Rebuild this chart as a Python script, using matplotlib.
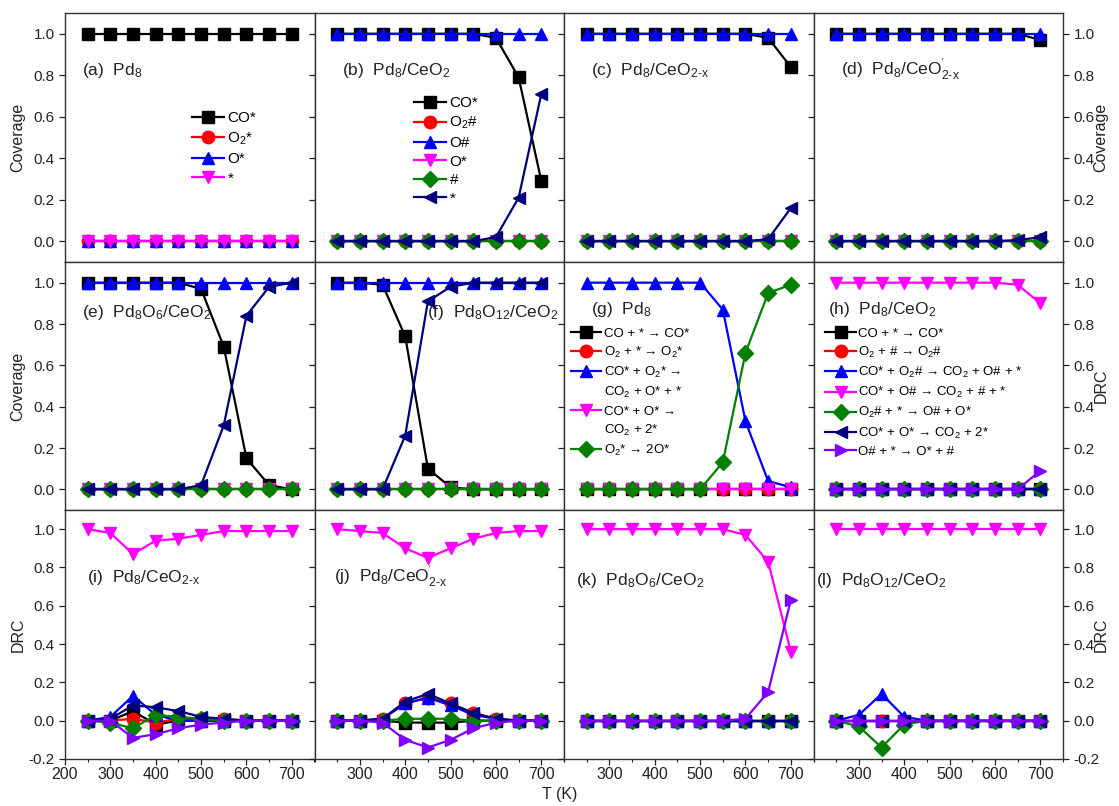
import matplotlib
matplotlib.use('Agg')
import matplotlib.pyplot as plt
from matplotlib.lines import Line2D
from matplotlib.ticker import MultipleLocator, FormatStrFormatter

plt.rcParams['font.family'] = ['Liberation Sans', 'DejaVu Sans']
plt.rcParams['mathtext.fontset'] = 'custom'
plt.rcParams['mathtext.rm'] = 'Liberation Sans'
plt.rcParams['mathtext.it'] = 'Liberation Sans:italic'
plt.rcParams['mathtext.bf'] = 'Liberation Sans:bold'
plt.rcParams['mathtext.default'] = 'regular'

# ---------------- data ----------------
T = [250, 300, 350, 400, 450, 500, 550, 600, 650, 700]
zero = [0, 0, 0, 0, 0, 0, 0, 0, 0, 0]
one = [1, 1, 1, 1, 1, 1, 1, 1, 1, 1]

# (a) Pd8 coverage
a_CO = [1, 1, 1, 1, 1, 1, 1, 1, 1, 1]
# (b) Pd8/CeO2 coverage
b_CO = [1, 1, 1, 1, 1, 1, 1, 0.98, 0.79, 0.29]
b_star = [0, 0, 0, 0, 0, 0, 0, 0.02, 0.21, 0.71]
# (c) Pd8/CeO2-x coverage
c_CO = [1, 1, 1, 1, 1, 1, 1, 1, 0.98, 0.84]
c_star = [0, 0, 0, 0, 0, 0, 0, 0, 0.01, 0.16]
# (d) Pd8/CeO'2-x coverage
d_CO = [1, 1, 1, 1, 1, 1, 1, 1, 1, 0.97]
d_star = [0, 0, 0, 0, 0, 0, 0, 0, 0.005, 0.02]
# (e) Pd8O6/CeO2 coverage
e_CO = [1, 1, 1, 1, 1, 0.97, 0.69, 0.15, 0.02, 0]
e_star = [0, 0, 0, 0, 0, 0.02, 0.31, 0.84, 0.98, 1.0]
# (f) Pd8O12/CeO2 coverage
f_CO = [1, 1, 0.99, 0.74, 0.10, 0.01, 0, 0, 0, 0]
f_star = [0, 0, 0, 0.26, 0.91, 0.98, 1, 1, 1, 1]
# (g) Pd8 DRC
g_blue = [1, 1, 1, 1, 1, 1, 0.87, 0.33, 0.04, 0.01]
g_green = [0, 0, 0, 0, 0, 0, 0.13, 0.66, 0.95, 0.99]
# (h) Pd8/CeO2 DRC
h_mag = [1, 1, 1, 1, 1, 1, 1, 1, 0.99, 0.90]
h_purple = [0, 0, 0, 0, 0, 0, 0, 0, 0, 0.09]
# (i) Pd8/CeO2-x DRC
i_black = [0, 0, 0.05, -0.02, 0, 0, 0, 0, 0, 0]
i_red = [0, 0, 0.01, -0.01, 0.01, 0.01, 0.01, 0, 0, 0]
i_blue = [0, 0.02, 0.13, 0.03, 0, 0, 0, 0, 0, 0]
i_mag = [1.0, 0.98, 0.87, 0.94, 0.95, 0.97, 0.99, 0.99, 0.99, 0.99]
i_green = [0, -0.01, -0.04, 0.03, 0.02, 0.01, 0, 0, 0, 0]
i_navy = [0, 0.01, 0.08, 0.07, 0.05, 0.02, 0.01, 0, 0, 0]
i_purple = [0, 0, -0.09, -0.07, -0.04, -0.02, -0.01, 0, 0, 0]
# (j) Pd8/CeO'2-x DRC
j_black = [0, 0, 0, -0.01, -0.01, -0.01, 0, 0, 0, 0]
j_red = [0, 0, 0.01, 0.09, 0.12, 0.09, 0.04, 0.01, 0, 0]
j_blue = [0, 0, 0.01, 0.09, 0.12, 0.08, 0.03, 0.01, 0, 0]
j_mag = [1.0, 0.99, 0.98, 0.90, 0.85, 0.90, 0.95, 0.98, 0.99, 0.99]
j_green = [0, 0, 0, 0.01, 0.01, 0.01, 0, 0, 0, 0]
j_navy = [0, 0, 0.01, 0.10, 0.14, 0.09, 0.04, 0.01, 0, 0]
j_purple = [0, 0, -0.01, -0.10, -0.14, -0.10, -0.04, -0.01, 0, 0]
# (k) Pd8O6/CeO2 DRC
k_mag = [1, 1, 1, 1, 1, 1, 1, 0.97, 0.83, 0.36]
k_purple = [0, 0, 0, 0, 0, 0, 0, 0.01, 0.15, 0.63]
# (l) Pd8O12/CeO2 DRC
l_blue = [0, 0.03, 0.14, 0.02, 0, 0, 0, 0, 0, 0]
l_green = [0, -0.03, -0.14, -0.02, 0, 0, 0, 0, 0, 0]

# legend labels
lab_a = ['CO*', 'O$_2$*', 'O*', '*']
lab_b = ['CO*', 'O$_2$#', 'O#', 'O*', '#', '*']
lab_g = ['CO + * \u2192 CO*', 'O$_2$ + * \u2192 O$_2$*', 'CO* + O$_2$* \u2192',
         'CO$_2$ + O* + *', 'CO* + O* \u2192', 'CO$_2$ + 2*', 'O$_2$* \u2192 2O*']
lab_h = ['CO + * \u2192 CO*', 'O$_2$ + # \u2192 O$_2$#',
         'CO* + O$_2$# \u2192 CO$_2$ + O# + *', 'CO* + O# \u2192 CO$_2$ + # + *',
         'O$_2$# + * \u2192 O# + O*', 'CO* + O* \u2192 CO$_2$ + 2*',
         'O# + * \u2192 O* + #']

titles = ['(a)  Pd$_8$', '(b)  Pd$_8$/CeO$_2$', '(c)  Pd$_8$/CeO$_{2\\text{-}x}$',
          "(d)  Pd$_8$/CeO$^{'}_{2\\text{-}x}$",
          '(e)  Pd$_8$O$_6$/CeO$_2$', '(f)  Pd$_8$O$_{12}$/CeO$_2$', '(g)  Pd$_8$',
          '(h)  Pd$_8$/CeO$_2$',
          '(i)  Pd$_8$/CeO$_{2\\text{-}x}$', "(j)  Pd$_8$/CeO$^{'}_{2\\text{-}x}$",
          '(k)  Pd$_8$O$_6$/CeO$_2$', '(l)  Pd$_8$O$_{12}$/CeO$_2$']
title_pos = [(0.07, 0.75), (0.11, 0.75), (0.11, 0.75), (0.11, 0.75),
             (0.07, 0.78), (0.45, 0.78), (0.11, 0.79), (0.06, 0.79),
             (0.09, 0.71), (0.08, 0.71), (0.05, 0.70), (0.01, 0.70)]

# styles
K = ('black', 's'); R = ('red', 'o'); B = ('blue', '^'); M = ('magenta', 'v')
G = ('green', 'D'); N = ('navy', '<'); P = ('#8000ff', '>')

panels = [
    [(K, a_CO), (R, zero), (B, zero), (M, zero)],
    [(K, b_CO), (R, zero), (B, one), (M, zero), (G, zero), (N, b_star)],
    [(K, c_CO), (R, zero), (B, one), (M, zero), (G, zero), (N, c_star)],
    [(K, d_CO), (R, zero), (B, one), (M, zero), (G, zero), (N, d_star)],
    [(K, e_CO), (R, zero), (B, one), (M, zero), (G, zero), (N, e_star)],
    [(K, f_CO), (R, zero), (B, one), (M, zero), (G, zero), (N, f_star)],
    [(K, zero), (R, zero), (B, g_blue), (M, zero), (G, g_green)],
    [(K, zero), (R, zero), (B, zero), (M, h_mag), (G, zero), (N, zero), (P, h_purple)],
    [(K, i_black), (R, i_red), (B, i_blue), (M, i_mag), (G, i_green), (N, i_navy), (P, i_purple)],
    [(K, j_black), (R, j_red), (B, j_blue), (M, j_mag), (G, j_green), (N, j_navy), (P, j_purple)],
    [(K, zero), (R, zero), (B, zero), (M, k_mag), (G, zero), (N, zero), (P, k_purple)],
    [(K, zero), (R, zero), (B, l_blue), (M, one), (G, l_green), (N, zero), (P, zero)],
]

FW, FH = 1119, 806
fig = plt.figure(figsize=(FW / 100, FH / 100), dpi=100)

L0 = 65; CW = 249.5
row_top = [13, 262, 510]
row_h = [249, 248, 249]

for idx in range(12):
    r, c = divmod(idx, 4)
    ax = fig.add_axes([(L0 + c * CW) / FW, 1 - (row_top[r] + row_h[r]) / FH,
                       CW / FW, row_h[r] / FH])
    handles = []
    for (col, mk), vals in panels[idx]:
        ms = 8 if mk == 'D' else 9
        h, = ax.plot(T, vals, color=col, marker=mk, ms=ms, lw=1.6,
                     mec=col, mfc=col)
        handles.append(h)
    ax.set_xlim(200, 750)
    if r < 2:
        ax.set_ylim(-0.1, 1.1)
        ax.set_yticks([0, 0.2, 0.4, 0.6, 0.8, 1.0])
    else:
        ax.set_ylim(-0.2, 1.1)
        ax.set_yticks([-0.2, 0, 0.2, 0.4, 0.6, 0.8, 1.0])
    ax.yaxis.set_major_formatter(FormatStrFormatter('%.1f'))
    for sp in ax.spines.values():
        sp.set_linewidth(1.0)
        sp.set_color('#333333')
    ax.tick_params(axis='both', which='both', direction='out', colors='#222222')
    ax.tick_params(axis='y', which='major', length=4, width=0.9, labelsize=11,
                   left=True, right=(c == 3), labelleft=(c == 0),
                   labelright=(c == 3))
    if r == 2:
        if c == 0:
            ax.set_xticks([200, 300, 400, 500, 600, 700])
        else:
            ax.set_xticks([300, 400, 500, 600, 700])
        ax.xaxis.set_minor_locator(MultipleLocator(50))
        ax.tick_params(axis='x', which='major', length=4, width=0.9, pad=2,
                       labelsize=11.5)
        ax.tick_params(axis='x', which='minor', length=2, width=0.8)
    else:
        ax.set_xticks([])
        ax.tick_params(axis='x', which='both', bottom=False, labelbottom=False)
    tx, ty = title_pos[idx]
    ax.text(tx, ty, titles[idx], transform=ax.transAxes, fontsize=12.5,
            color='#222222', va='baseline')

    if idx == 0:
        ax.legend(handles, lab_a, loc='upper left', bbox_to_anchor=(0.51, 0.605),
                  frameon=False, fontsize=11, handlelength=2.1, handletextpad=0.2,
                  labelspacing=0.35, borderpad=0, borderaxespad=0)
    elif idx == 1:
        ax.legend(handles, lab_b, loc='upper left', bbox_to_anchor=(0.40, 0.665),
                  frameon=False, fontsize=11, handlelength=2.1, handletextpad=0.2,
                  labelspacing=0.3, borderpad=0, borderaxespad=0)
    elif idx == 6:
        blank = Line2D([], [], linestyle='none', marker='none')
        hh = [handles[0], handles[1], handles[2], blank, handles[3], blank, handles[4]]
        ax.legend(hh, lab_g, loc='upper left', bbox_to_anchor=(0.028, 0.735),
                  frameon=False, fontsize=9.5, handlelength=2.3, handletextpad=0.2,
                  labelspacing=0.38, borderpad=0, borderaxespad=0)
    elif idx == 7:
        ax.legend(handles, lab_h, loc='upper left', bbox_to_anchor=(0.048, 0.735),
                  frameon=False, fontsize=9.5, handlelength=2.3, handletextpad=0.2,
                  labelspacing=0.38, borderpad=0, borderaxespad=0)

# axis labels
row_centers = [row_top[r] + row_h[r] / 2 for r in range(3)]
left_labels = ['Coverage', 'Coverage', 'DRC']
right_labels = ['Coverage', 'DRC', 'DRC']
for r in range(3):
    yc = 1 - row_centers[r] / FH
    fig.text(18 / FW, yc, left_labels[r], rotation=90, ha='center', va='center',
             fontsize=11.5, color='#222222')
    fig.text(1101 / FW, yc, right_labels[r], rotation=90, ha='center', va='center',
             fontsize=11.5, color='#222222')
fig.text(560 / FW, 1 - 795 / FH, 'T (K)', ha='center', va='center', fontsize=11.5,
         color='#222222')

fig.savefig('out.png', dpi=100)
